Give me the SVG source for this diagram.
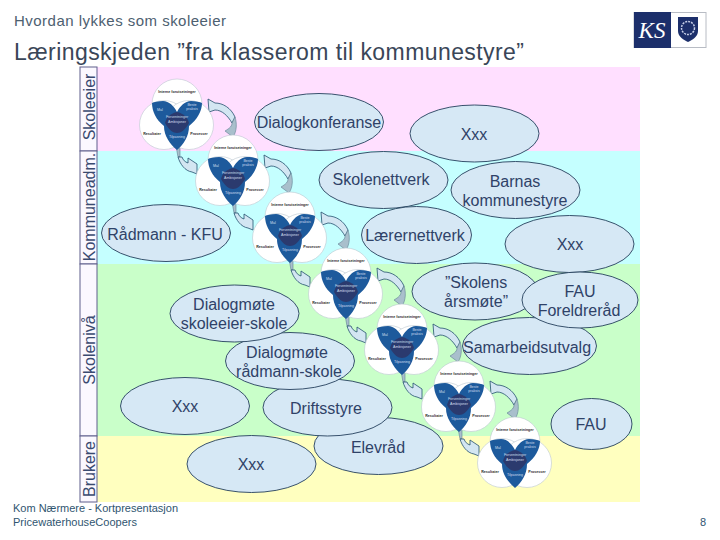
<svg xmlns="http://www.w3.org/2000/svg" width="720" height="540" viewBox="0 0 720 540">
<style>
text{font-family:"Liberation Sans",Arial,sans-serif}
.head{fill:#3a4658}
.sub{fill:#4d6070}
.foot{fill:#2f5570}
.el{fill:#D6E8F5;stroke:#25405c;stroke-width:.9}
.et{fill:#2f4268;font-size:16px;text-anchor:middle}
.band{fill:#fbf8ff;stroke:#5f5f8c;stroke-width:1}
.bl{fill:#3a4a70;font-size:16px;text-anchor:middle}
.c{fill:#fff;stroke:#bcc8d0;stroke-width:.6}
.t1{fill:#2a2a2a;font-size:3.6px;font-weight:bold;text-anchor:middle}
.t2{fill:#cfdcec;font-size:3.6px;text-anchor:middle}
.ar{fill:#d3e6f2;stroke:#24506e;stroke-width:.8}
.ag{fill:#a9bfcc;stroke:#5f7f92;stroke-width:.6}
</style>
<defs>
<g id="venn">
<circle class="c" cx="0" cy="0" r="25"/>
<circle class="c" cx="-13" cy="21" r="24.5"/>
<circle class="c" cx="12" cy="21" r="24.5"/>
<path fill="#1d5a9c" d="M0 8C-3 2-8-3-14-3C-19-3-23-2-25-1C-25 7-21 16-13 22C-13 32-7 40 0 46C7 40 12 32 12 22C20 16 25 7 25-1C23-2 19-3 14-3C8-3 3 2 0 8Z"/>
<path fill="#2b3a6e" d="M0 8C6 9 11 14 12 19C8 26 4 29 0 29C-4 29-8 26-12 19C-11 14-6 9 0 8Z"/>
<text class="t1" x="0" y="-11">Interne forutsetninger</text>
<text class="t2" x="-17" y="7">Mål</text>
<text class="t2" x="15" y="2">Beste</text>
<text class="t2" x="15" y="6">praksis</text>
<text class="t2" x="0" y="14">Forventninger</text>
<text class="t2" x="0" y="19">Ambisjoner</text>
<text class="t2" x="0" y="34">Tilpasning</text>
<text class="t1" x="-25" y="31">Resultater</text>
<text class="t1" x="22" y="31">Prosesser</text>
</g>
<g id="arrows">
<path class="ar" d="M31-5 L38-1 C46-1 54 4 58 13 L55 19 C51 12 45 6 38 6 L32 8 Z"/>
<path class="ag" d="M58 13 C60 19 60 27 56 33 L48 27 C53 24 55 22 55 19 Z"/>
<path class="ag" d="M-1 42 L3 42 L3 53 L1 53 Z"/>
<path class="ar" d="M1 53 C3 60 8 67 15 68 L20 70 L20 60 L11 54 L11 59 C8 58 6 56 5 53 Z"/>
</g>
</defs>

<rect x="80" y="67" width="560" height="84" fill="#FFDFFF"/>
<rect x="80" y="151" width="560" height="113" fill="#C5FFFF"/>
<rect x="80" y="264" width="560" height="172" fill="#C9FFC9"/>
<rect x="80" y="436" width="560" height="66" fill="#FFFFBF"/>

<text class="sub" x="14" y="25.5" font-size="15" textLength="212" lengthAdjust="spacing">Hvordan lykkes som skoleeier</text>
<text class="head" x="14" y="60" font-size="23" textLength="510" lengthAdjust="spacing">Læringskjeden ”fra klasserom til kommunestyre”</text>

<g id="logo">
<rect x="634" y="12.5" width="72" height="35" fill="#fff" stroke="#b8bcc4"/>
<rect x="634" y="12" width="37" height="36" fill="#1c2f6b"/>
<text x="652" y="38" font-size="23" font-style="italic" fill="#fff" text-anchor="middle" style="font-family:'Liberation Serif',serif">KS</text>
<path d="M678 17H698V31C698 37 692 40 688 42 684 40 678 37 678 31Z" fill="#1c2f6b"/>
<circle cx="688" cy="28" r="6.5" fill="none" stroke="#c8d0e8" stroke-width="1.5" stroke-dasharray="2 1"/>
</g>

<g id="band-labels">
<rect class="band" x="80" y="67" width="17" height="84"/>
<rect class="band" x="80" y="151" width="17" height="113"/>
<rect class="band" x="80" y="264" width="17" height="172"/>
<rect class="band" x="80" y="436" width="17" height="66"/>
<text class="bl" transform="translate(95,107) rotate(-90)">Skoleeier</text>
<text class="bl" transform="translate(95,207) rotate(-90)">Kommuneadm.</text>
<text class="bl" transform="translate(95,350) rotate(-90)">Skolenivå</text>
<text class="bl" transform="translate(95,469) rotate(-90)">Brukere</text>
</g>

<g id="ellipses">
<g id="n-dialogkonferanse"><ellipse class="el" cx="319" cy="122" rx="64.5" ry="28.5"/><text class="et" x="319" y="128">Dialogkonferanse</text></g>
<g id="n-xxx1"><ellipse class="el" cx="474.5" cy="133.5" rx="64.5" ry="28.5"/><text class="et" x="474" y="140">Xxx</text></g>
<g id="n-skolenettverk"><ellipse class="el" cx="383.5" cy="180" rx="64.5" ry="28.5"/><text class="et" x="381" y="185">Skolenettverk</text></g>
<g id="n-barnas"><ellipse class="el" cx="515.5" cy="190" rx="64.5" ry="28.5"/><text class="et" x="515" y="187">Barnas</text><text class="et" x="515" y="206">kommunestyre</text></g>
<g id="n-radmann"><ellipse class="el" cx="166" cy="233" rx="64.5" ry="28.5"/><text class="et" x="165" y="240">Rådmann - KFU</text></g>
<g id="n-laerernettverk"><ellipse class="el" cx="416.5" cy="235" rx="55" ry="28.5"/><text class="et" x="415" y="241">Lærernettverk</text></g>
<g id="n-xxx2"><ellipse class="el" cx="569.5" cy="244" rx="64.5" ry="28.5"/><text class="et" x="570" y="250">Xxx</text></g>
<g id="n-samarbeid"><ellipse class="el" cx="529.5" cy="346" rx="67" ry="28.5"/><text class="et" x="527" y="353">Samarbeidsutvalg</text></g>
<g id="n-aarsmote"><ellipse class="el" cx="475" cy="291.5" rx="63" ry="28.5"/><text class="et" x="476" y="288">”Skolens</text><text class="et" x="476" y="307">årsmøte”</text></g>
<g id="n-fau1"><ellipse class="el" cx="580" cy="300" rx="58" ry="28"/><text class="et" x="580" y="297">FAU</text><text class="et" x="579" y="316">Foreldreråd</text></g>
<g id="n-elevrad"><ellipse class="el" cx="378.5" cy="446" rx="64.5" ry="28.5"/><text class="et" x="378" y="453">Elevråd</text></g>
<g id="n-drift"><ellipse class="el" cx="327.5" cy="407.5" rx="64.5" ry="28.5"/><text class="et" x="326" y="414">Driftsstyre</text></g>
<g id="n-dialog2"><ellipse class="el" cx="290" cy="361" rx="64.5" ry="28.5"/><text class="et" x="287" y="358">Dialogmøte</text><text class="et" x="289" y="377">rådmann-skole</text></g>
<g id="n-dialog1"><ellipse class="el" cx="234.5" cy="313.5" rx="64.5" ry="28.5"/><text class="et" x="234" y="310">Dialogmøte</text><text class="et" x="234" y="329">skoleeier-skole</text></g>
<g id="n-xxx3"><ellipse class="el" cx="185" cy="406" rx="64.5" ry="28.5"/><text class="et" x="185" y="412">Xxx</text></g>
<g id="n-fau2"><ellipse class="el" cx="591.5" cy="424" rx="40.5" ry="25.5"/><text class="et" x="591" y="430">FAU</text></g>
<g id="n-xxx4"><ellipse class="el" cx="251.5" cy="464" rx="64.5" ry="28.5"/><text class="et" x="251" y="470">Xxx</text></g>
</g>

<g id="connectors">
<use href="#arrows" transform="translate(177,104)"/>
<use href="#arrows" transform="translate(233,160)"/>
<use href="#arrows" transform="translate(290,217)"/>
<use href="#arrows" transform="translate(346,273)"/>
<use href="#arrows" transform="translate(402,329)"/>
<use href="#arrows" transform="translate(459,386)"/>
</g>

<g id="venn1"><use href="#venn" transform="translate(177,104)"/></g>
<g id="venn2"><use href="#venn" transform="translate(233,160)"/></g>
<g id="venn3"><use href="#venn" transform="translate(290,217)"/></g>
<g id="venn4"><use href="#venn" transform="translate(346,273)"/></g>
<g id="venn5"><use href="#venn" transform="translate(402,329)"/></g>
<g id="venn6"><use href="#venn" transform="translate(459,386)"/></g>
<g id="venn7"><use href="#venn" transform="translate(515,442)"/></g>

<text class="foot" x="13" y="512" font-size="11" textLength="165" lengthAdjust="spacing">Kom Nærmere - Kortpresentasjon</text>
<text class="foot" x="13" y="526" font-size="11" textLength="124" lengthAdjust="spacing">PricewaterhouseCoopers</text>
<text class="foot" x="706" y="526" font-size="11" text-anchor="end">8</text>
</svg>
